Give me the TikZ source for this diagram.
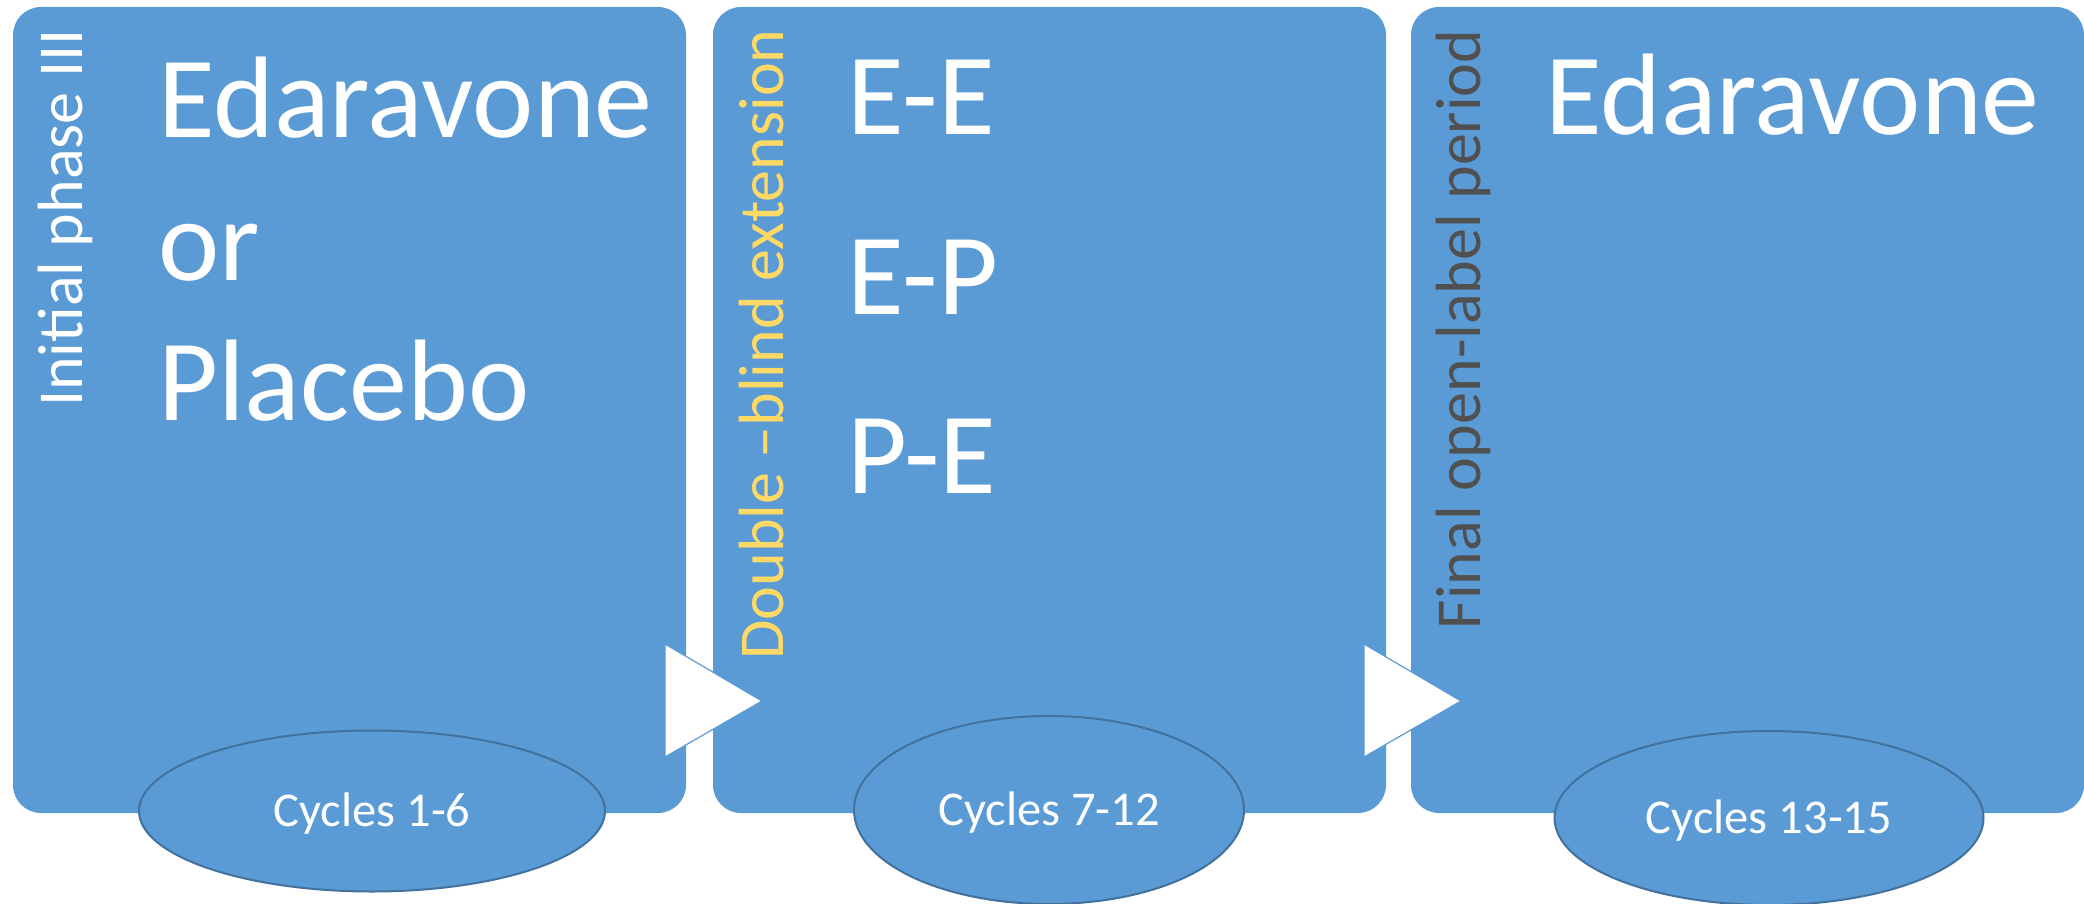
\documentclass[tikz,border=0pt]{standalone}
\usepackage{fontspec}
\setmainfont{Carlito}
\usetikzlibrary{shapes.geometric}
\definecolor{boxblue}{HTML}{5B9BD5}
\definecolor{edgeblue}{HTML}{41719C}
\definecolor{labelyellow}{HTML}{FFD966}
\definecolor{labelgray}{HTML}{505050}
\begin{document}
\begin{tikzpicture}[x=0.5pt,y=-0.5pt,
  phase/.style={rectangle, fill=boxblue, draw=none, rounded corners=14pt,
    minimum width=336.5pt, minimum height=403pt, inner sep=0pt},
  bigtext/.style={text=white, font=\fontsize{58}{70}\selectfont, anchor=base west, inner sep=0pt},
  sidelabel/.style={rotate=90, anchor=base east, inner sep=0pt, font=\fontsize{32}{38}\selectfont},
  cyc/.style={ellipse, fill=boxblue, draw=edgeblue, line width=1pt, inner sep=0pt,
    text=white, font=\fontsize{24.25}{29}\selectfont, text height=15.3pt, text depth=0pt},
  arrowtri/.style={fill=white, draw=boxblue, line width=0.6pt, line join=miter}]
\fill[white] (0,0) rectangle (2084,904);
\useasboundingbox (0,0) rectangle (2084,904);

% phase boxes
\node[phase] (b1) at (349.5,410) {};
\node[phase] (b2) at (1049.5,410) {};
\node[phase] (b3) at (1747.5,410) {};

% arrows
\draw[arrowtri] (665,644) -- (762,701) -- (665,757) -- cycle;
\draw[arrowtri] (1364,644) -- (1461,701) -- (1364,757) -- cycle;

% side labels
\node[sidelabel, text=white] (l1) at (83,29) {Initial phase III};
\node[sidelabel, text=labelyellow] (l2) at (783,29) {Double –blind extension};
\node[sidelabel, text=labelgray] (l3) at (1480,29) {Final open-label period};

% main texts
\node[bigtext] (t1a) at (158,138) {Edaravone};
\node[bigtext] (t1b) at (158,280) {or};
\node[bigtext] (t1c) at (158,420) {Placebo};

\node[bigtext] (t2a) at (847,134) {E-E};
\node[bigtext] (t2b) at (847,314) {E-P};
\node[bigtext] (t2c) at (847,493) {P-E};

\node[bigtext] (t3a) at (1545,134) {Edaravone};

% cycle ellipses
\node[cyc, minimum width=233pt, minimum height=80.5pt] (e1) at (372,811) {Cycles 1-6};
\node[cyc, minimum width=195pt, minimum height=94pt] (e2) at (1049,810) {Cycles 7-12};
\node[cyc, minimum width=214.5pt, minimum height=87pt] (e3) at (1769,818) {Cycles 13-15};
\end{tikzpicture}
\end{document}
